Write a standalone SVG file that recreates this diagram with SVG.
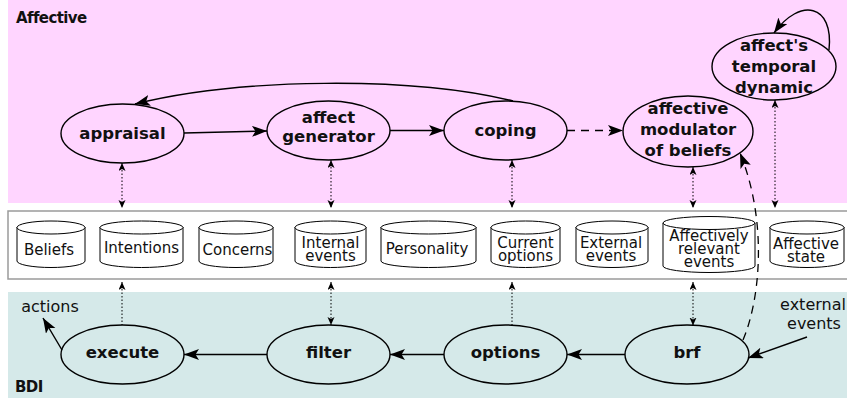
<svg xmlns="http://www.w3.org/2000/svg" width="847" height="398" viewBox="0 0 847 398">
  <style>
    .node { fill: none; stroke: #000; stroke-width: 1.4; }
    .lbl { font-family: "DejaVu Sans", "Liberation Sans", sans-serif; font-weight: bold; font-size: 16.5px; text-anchor: middle; fill: #111; }
    .cyl { fill: #fff; stroke: #000; stroke-width: 1; }
    .cyltxt { font-family: "DejaVu Sans", "Liberation Sans", sans-serif; font-size: 15px; text-anchor: middle; fill: #111; }
    .free { font-family: "DejaVu Sans", "Liberation Sans", sans-serif; font-size: 16px; text-anchor: middle; fill: #111; }
    .layer { font-family: "DejaVu Sans", "Liberation Sans", sans-serif; font-weight: bold; font-size: 15px; fill: #111; letter-spacing: -0.6px; }
    .solid { fill: none; stroke: #000; stroke-width: 1.4; marker-end: url(#big); }
    .dashed { fill: none; stroke: #000; stroke-width: 1.3; stroke-dasharray: 8 6; marker-end: url(#big); }
    .dot1 { fill: none; stroke: #000; stroke-width: 1; stroke-dasharray: 1.5 2; marker-start: url(#small); }
    .dot2 { fill: none; stroke: #000; stroke-width: 1; stroke-dasharray: 1.5 2; marker-start: url(#small); marker-end: url(#small); }
  </style>
  <defs>
    <marker id="big" markerUnits="userSpaceOnUse" markerWidth="16" markerHeight="12" refX="15" refY="5.5" orient="auto">
      <path d="M0,0 L15,5.5 L0,11 L3.5,5.5 z" fill="#000"/>
    </marker>
    <marker id="small" markerUnits="userSpaceOnUse" markerWidth="9" markerHeight="8" refX="8" refY="3.5" orient="auto-start-reverse">
      <path d="M0,0 L8,3.5 L0,7 L2,3.5 z" fill="#000"/>
    </marker>
  </defs>

  <!-- layer backgrounds -->
  <rect x="8" y="0" width="839" height="203" fill="#ffd5ff"/>
  <rect x="8" y="292" width="839" height="106" fill="#d5e9e9"/>
  <rect x="8" y="211" width="845" height="68" fill="#fff" stroke="#9a9a9a" stroke-width="1.5"/>
  <text class="layer" x="16" y="23">Affective</text>
  <text class="layer" x="15" y="392">BDI</text>

  <!-- connectors -->
  <g id="connectors">
    <line class="solid" x1="184" y1="133" x2="267" y2="131"/>
    <line class="solid" x1="390" y1="130.5" x2="444" y2="130.5"/>
    <path class="solid" d="M513,101 C410,76 240,78 135,104"/>
    <line class="dashed" x1="567" y1="130.5" x2="623" y2="130.5" stroke="#333"/>
    <path class="dashed" d="M743,340 C760,300 768,222 740,153"/>
    <path class="solid" d="M829,50 C834,4 800,-3 774,33"/>

    <line class="solid" x1="625" y1="354.5" x2="567" y2="354.5"/>
    <line class="solid" x1="444" y1="354.5" x2="390" y2="354.5"/>
    <line class="solid" x1="267" y1="354.5" x2="184" y2="354.5"/>
    <line class="solid" x1="62" y1="350" x2="43" y2="318"/>
    <line class="solid" x1="807" y1="337" x2="748" y2="358"/>

    <line class="dot2" x1="122" y1="163" x2="122" y2="208"/>
    <line class="dot2" x1="331" y1="160" x2="331" y2="208"/>
    <line class="dot2" x1="512" y1="160" x2="512" y2="208"/>
    <line class="dot2" x1="693" y1="167" x2="693" y2="208"/>
    <line class="dot2" x1="775" y1="100" x2="775" y2="208"/>

    <line class="dot1" x1="122" y1="282" x2="122" y2="325"/>
    <line class="dot2" x1="331" y1="282" x2="331" y2="325"/>
    <line class="dot1" x1="512" y1="282" x2="512" y2="325"/>
    <line class="dot2" x1="693" y1="282" x2="693" y2="325.5"/>
  </g>

  <!-- affective layer -->
  <g id="appraisal">
    <ellipse class="node" cx="122.5" cy="133.5" rx="61.5" ry="29.5"/>
    <text class="lbl" x="122.5" y="139">appraisal</text>
  </g>
  <g id="affect-generator">
    <ellipse class="node" cx="328.5" cy="130.5" rx="61.5" ry="29.5"/>
    <text class="lbl" x="328.5" y="122.5">affect</text>
    <text class="lbl" x="328.5" y="142">generator</text>
  </g>
  <g id="coping">
    <ellipse class="node" cx="505.5" cy="130.5" rx="61.5" ry="29.5"/>
    <text class="lbl" x="505.5" y="135.5">coping</text>
  </g>
  <g id="affective-modulator">
    <ellipse class="node" cx="688" cy="131.5" rx="65" ry="35.5"/>
    <text class="lbl" x="688" y="114">affective</text>
    <text class="lbl" x="688" y="135">modulator</text>
    <text class="lbl" x="688" y="156">of beliefs</text>
  </g>
  <g id="temporal-dynamic">
    <ellipse class="node" cx="774" cy="66.5" rx="62" ry="33.5"/>
    <text class="lbl" x="774" y="51">affect's</text>
    <text class="lbl" x="774" y="72">temporal</text>
    <text class="lbl" x="774" y="93">dynamic</text>
  </g>

  <!-- shared state -->
  <g id="beliefs">
    <path class="cyl" d="M17,227 V261 A34,6.5 0 0 0 85,261 V227"/>
    <ellipse class="cyl" cx="51" cy="227.5" rx="34" ry="6.5"/>
    <text class="cyltxt" x="49" y="255">Beliefs</text>
  </g>
  <g id="intentions">
    <path class="cyl" d="M100,227 V261 A41.5,6.5 0 0 0 183,261 V227"/>
    <ellipse class="cyl" cx="141.5" cy="227.5" rx="41.5" ry="6.5"/>
    <text class="cyltxt" x="141.5" y="252.5">Intentions</text>
  </g>
  <g id="concerns">
    <path class="cyl" d="M199,227 V261 A37,6.5 0 0 0 273,261 V227"/>
    <ellipse class="cyl" cx="236" cy="227.5" rx="37" ry="6.5"/>
    <text class="cyltxt" x="237.5" y="255">Concerns</text>
  </g>
  <g id="internal-events">
    <path class="cyl" d="M295,227 V261 A35.5,6.5 0 0 0 366,261 V227"/>
    <ellipse class="cyl" cx="330.5" cy="227.5" rx="35.5" ry="6.5"/>
    <text class="cyltxt" x="330.5" y="248">Internal</text>
    <text class="cyltxt" x="330.5" y="261">events</text>
  </g>
  <g id="personality">
    <path class="cyl" d="M381,227 V261 A47.5,6.5 0 0 0 476,261 V227"/>
    <ellipse class="cyl" cx="428.5" cy="227.5" rx="47.5" ry="6.5"/>
    <text class="cyltxt" x="427" y="254">Personality</text>
  </g>
  <g id="current-options">
    <path class="cyl" d="M491,227 V261 A34.5,6.5 0 0 0 560,261 V227"/>
    <ellipse class="cyl" cx="525.5" cy="227.5" rx="34.5" ry="6.5"/>
    <text class="cyltxt" x="525.5" y="248">Current</text>
    <text class="cyltxt" x="525.5" y="261">options</text>
  </g>
  <g id="external-events">
    <path class="cyl" d="M576,227 V261 A36,6.5 0 0 0 648,261 V227"/>
    <ellipse class="cyl" cx="612" cy="227.5" rx="36" ry="6.5"/>
    <text class="cyltxt" x="611" y="248">External</text>
    <text class="cyltxt" x="611" y="261">events</text>
  </g>
  <g id="affectively-relevant-events">
    <path class="cyl" d="M663,223 V266 A46,6.5 0 0 0 755,266 V223"/>
    <ellipse class="cyl" cx="709" cy="223" rx="46" ry="6.5"/>
    <text class="cyltxt" x="709" y="241">Affectively</text>
    <text class="cyltxt" x="709" y="254">relevant</text>
    <text class="cyltxt" x="709" y="267">events</text>
  </g>
  <g id="affective-state">
    <path class="cyl" d="M770,227 V261 A37,6.5 0 0 0 844,261 V227"/>
    <ellipse class="cyl" cx="807" cy="227.5" rx="37" ry="6.5"/>
    <text class="cyltxt" x="806" y="249">Affective</text>
    <text class="cyltxt" x="806" y="262">state</text>
  </g>

  <!-- BDI layer -->
  <g id="execute">
    <ellipse class="node" cx="122.5" cy="354.5" rx="61.5" ry="29.5"/>
    <text class="lbl" x="122.5" y="358">execute</text>
  </g>
  <g id="filter">
    <ellipse class="node" cx="328.5" cy="354.5" rx="61.5" ry="29.5"/>
    <text class="lbl" x="328.5" y="358">filter</text>
  </g>
  <g id="options">
    <ellipse class="node" cx="505.5" cy="354.5" rx="61.5" ry="29.5"/>
    <text class="lbl" x="505.5" y="358">options</text>
  </g>
  <g id="brf">
    <ellipse class="node" cx="687" cy="354.5" rx="62" ry="29.5"/>
    <text class="lbl" x="687" y="358">brf</text>
  </g>

  <text class="free" x="50" y="312">actions</text>
  <text class="free" x="813" y="310">external</text>
  <text class="free" x="814" y="329">events</text>
</svg>
